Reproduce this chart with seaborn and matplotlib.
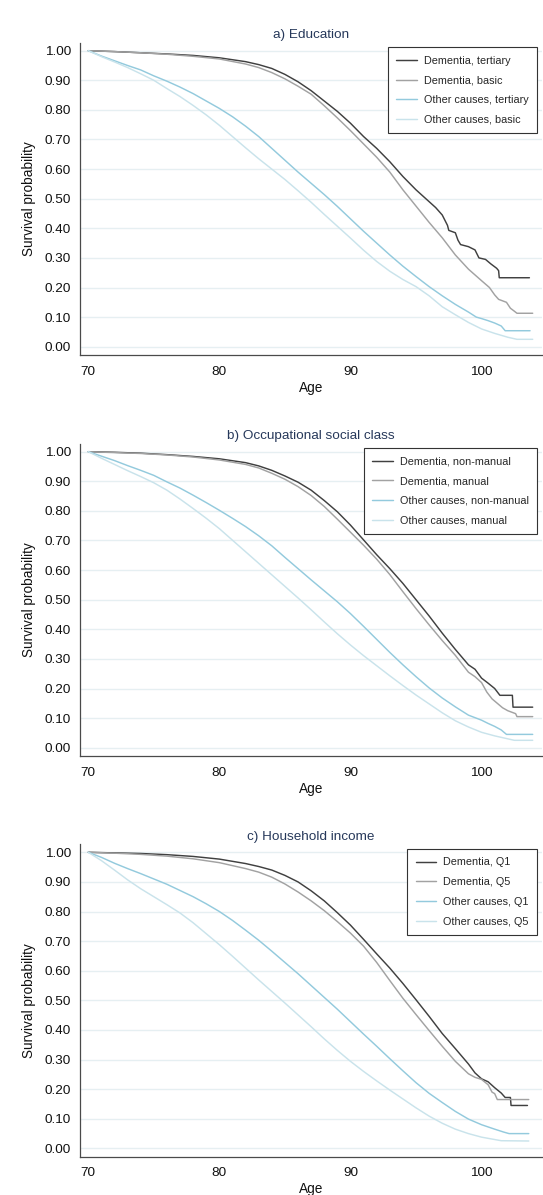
import matplotlib
matplotlib.use("Agg")
import matplotlib.pyplot as plt
import numpy as np
import pandas as pd
import seaborn as sns

# ---------------- data ----------------
titles = ["a) Education", "b) Occupational social class", "c) Household income"]

labels_a = ["Dementia, tertiary", "Dementia, basic", "Other causes, tertiary", "Other causes, basic"]
labels_b = ["Dementia, non-manual", "Dementia, manual", "Other causes, non-manual", "Other causes, manual"]
labels_c = ["Dementia, Q1", "Dementia, Q5", "Other causes, Q1", "Other causes, Q5"]

x_ticks = [70, 80, 90, 100]
y_ticks = [0.0, 0.1, 0.2, 0.3, 0.4, 0.5, 0.6, 0.7, 0.8, 0.9, 1.0]

# Panel a
a_dem_hi_age = [70, 72, 74, 76, 78, 80, 82, 83, 84, 85, 86, 87, 88, 89, 90, 91, 92, 93, 94, 95, 96, 96.5, 97, 97.4,
                97.5, 98.0, 98.2, 98.4, 99.0, 99.5, 99.8, 100.3, 100.7, 101.15, 101.3, 101.35, 103.65]
a_dem_hi = [1.000, 0.997, 0.993, 0.989, 0.984, 0.976, 0.963, 0.953, 0.940, 0.920, 0.895, 0.865, 0.830, 0.795, 0.755,
            0.710, 0.670, 0.625, 0.575, 0.530, 0.490, 0.470, 0.445, 0.410, 0.393, 0.385, 0.360, 0.345, 0.338, 0.327,
            0.300, 0.295, 0.280, 0.265, 0.257, 0.233, 0.233]
a_dem_lo_age = [70, 72, 74, 76, 78, 80, 82, 83, 84, 85, 86, 87, 88, 89, 90, 91, 92, 93, 94, 95, 96, 97, 98, 99,
                100, 100.6, 101.0, 101.3, 101.9, 102.2, 102.5, 102.7, 103.9]
a_dem_lo = [1.000, 0.997, 0.993, 0.988, 0.981, 0.972, 0.955, 0.943, 0.926, 0.905, 0.880, 0.853, 0.814, 0.773, 0.730,
            0.685, 0.640, 0.590, 0.530, 0.475, 0.420, 0.368, 0.310, 0.262, 0.223, 0.200, 0.175, 0.160, 0.150, 0.130,
            0.120, 0.113, 0.113]
a_oth_hi_age = [70, 71, 72, 73, 74, 75, 76, 77, 78, 79, 80, 81, 82, 83, 84, 85, 86, 87, 88, 89, 90, 91, 92, 93, 94,
                95, 96, 97, 98, 99, 99.6, 100, 100.5, 101, 101.5, 101.8, 103.7]
a_oth_hi = [1.000, 0.982, 0.966, 0.950, 0.935, 0.915, 0.897, 0.877, 0.855, 0.830, 0.805, 0.777, 0.745, 0.710, 0.670,
            0.630, 0.590, 0.552, 0.514, 0.474, 0.432, 0.390, 0.350, 0.310, 0.272, 0.237, 0.203, 0.172, 0.143, 0.117,
            0.100, 0.095, 0.088, 0.080, 0.070, 0.054, 0.054]
a_oth_lo_age = [70, 71, 72, 73, 74, 75, 76, 77, 78, 79, 80, 81, 82, 83, 84, 85, 86, 87, 88, 89, 90, 91, 92, 93, 94,
                95, 96, 97, 98, 99, 100, 101, 102, 102.7, 103.9]
a_oth_lo = [1.000, 0.980, 0.962, 0.943, 0.922, 0.900, 0.872, 0.845, 0.815, 0.783, 0.748, 0.710, 0.672, 0.635, 0.600,
            0.565, 0.527, 0.488, 0.447, 0.407, 0.367, 0.326, 0.288, 0.255, 0.227, 0.203, 0.172, 0.135, 0.108, 0.082,
            0.060, 0.045, 0.032, 0.025, 0.025]

# Panel b
b_dem_hi_age = [70, 72, 74, 76, 78, 80, 82, 83, 84, 85, 86, 87, 88, 89, 90, 91, 92, 93, 94, 95, 96, 97, 98, 99,
                99.5, 100, 100.5, 101, 101.4, 102.35, 102.4, 103.9]
b_dem_hi = [1.000, 0.998, 0.995, 0.990, 0.984, 0.976, 0.963, 0.952, 0.937, 0.918, 0.897, 0.870, 0.835, 0.797, 0.752,
            0.702, 0.652, 0.605, 0.555, 0.500, 0.445, 0.387, 0.332, 0.280, 0.265, 0.235, 0.218, 0.200, 0.177, 0.177,
            0.137, 0.137]
b_dem_lo_age = [70, 72, 74, 76, 78, 80, 82, 83, 84, 85, 86, 87, 88, 89, 90, 91, 92, 93, 94, 95, 96, 97, 98, 99,
                99.5, 100, 100.4, 100.8, 101.2, 101.6, 102, 102.6, 102.7, 103.9]
b_dem_lo = [1.000, 0.997, 0.994, 0.989, 0.982, 0.972, 0.957, 0.945, 0.927, 0.907, 0.882, 0.852, 0.815, 0.772, 0.728,
            0.684, 0.637, 0.585, 0.527, 0.470, 0.415, 0.362, 0.312, 0.255, 0.240, 0.220, 0.188, 0.165, 0.150, 0.135,
            0.125, 0.115, 0.105, 0.105]
b_oth_hi_age = [70, 71, 72, 73, 74, 75, 76, 77, 78, 79, 80, 81, 82, 83, 84, 85, 86, 87, 88, 89, 90, 91, 92, 93, 94,
                95, 96, 97, 98, 99, 100, 100.5, 101, 101.5, 101.9, 103.9]
b_oth_hi = [1.000, 0.985, 0.970, 0.953, 0.937, 0.920, 0.898, 0.877, 0.853, 0.828, 0.802, 0.775, 0.747, 0.716, 0.682,
            0.643, 0.605, 0.567, 0.530, 0.493, 0.453, 0.410, 0.366, 0.322, 0.280, 0.240, 0.202, 0.168, 0.138, 0.110,
            0.093, 0.082, 0.072, 0.060, 0.045, 0.045]
b_oth_lo_age = [70, 71, 72, 73, 74, 75, 76, 77, 78, 79, 80, 81, 82, 83, 84, 85, 86, 87, 88, 89, 90, 91, 92, 93, 94,
                95, 96, 97, 98, 99, 100, 101, 101.5, 102.5, 103.9]
b_oth_lo = [1.000, 0.978, 0.957, 0.936, 0.916, 0.895, 0.870, 0.840, 0.808, 0.775, 0.740, 0.701, 0.662, 0.623, 0.584,
            0.545, 0.506, 0.466, 0.425, 0.385, 0.347, 0.311, 0.277, 0.243, 0.210, 0.178, 0.148, 0.118, 0.091, 0.070,
            0.052, 0.040, 0.035, 0.025, 0.025]

# Panel c
c_dem_hi_age = [70, 72, 74, 76, 78, 80, 82, 83, 84, 85, 86, 87, 88, 89, 90, 91, 92, 93, 94, 95, 96, 97, 98, 99,
                99.5, 100, 100.5, 101, 101.5, 101.8, 102.2, 102.25, 103.5]
c_dem_hi = [1.000, 0.998, 0.996, 0.992, 0.986, 0.977, 0.962, 0.952, 0.940, 0.922, 0.900, 0.870, 0.836, 0.796, 0.754,
            0.706, 0.657, 0.609, 0.557, 0.502, 0.446, 0.388, 0.337, 0.285, 0.255, 0.235, 0.225, 0.205, 0.187, 0.172,
            0.172, 0.145, 0.145]
c_dem_lo_age = [70, 72, 74, 76, 78, 80, 82, 83, 84, 85, 86, 87, 88, 89, 90, 91, 92, 93, 94, 95, 96, 97, 98, 99,
                99.5, 100, 100.5, 100.8, 101, 101.2, 103.6]
c_dem_lo = [1.000, 0.997, 0.993, 0.987, 0.978, 0.965, 0.945, 0.933, 0.916, 0.893, 0.866, 0.836, 0.803, 0.766, 0.727,
            0.683, 0.628, 0.567, 0.507, 0.452, 0.398, 0.345, 0.294, 0.252, 0.240, 0.233, 0.215, 0.190, 0.185, 0.165,
            0.165]
c_oth_hi_age = [70, 71, 72, 73, 74, 75, 76, 77, 78, 79, 80, 81, 82, 83, 84, 85, 86, 87, 88, 89, 90, 91, 92, 93, 94,
                95, 96, 97, 98, 99, 100, 101, 101.7, 102.1, 103.6]
c_oth_hi = [1.000, 0.983, 0.963, 0.945, 0.928, 0.910, 0.892, 0.871, 0.850, 0.826, 0.800, 0.770, 0.737, 0.703, 0.666,
            0.628, 0.590, 0.550, 0.510, 0.470, 0.428, 0.386, 0.345, 0.303, 0.262, 0.222, 0.186, 0.155, 0.125, 0.099,
            0.080, 0.065, 0.055, 0.050, 0.050]
c_oth_lo_age = [70, 71, 72, 73, 74, 75, 76, 77, 78, 79, 80, 81, 82, 83, 84, 85, 86, 87, 88, 89, 90, 91, 92, 93, 94,
                95, 96, 97, 98, 99, 100, 101, 101.5, 103.6]
c_oth_lo = [1.000, 0.972, 0.940, 0.907, 0.877, 0.850, 0.823, 0.795, 0.762, 0.725, 0.688, 0.649, 0.609, 0.569, 0.530,
            0.491, 0.451, 0.411, 0.370, 0.331, 0.294, 0.260, 0.228, 0.197, 0.167, 0.137, 0.109, 0.085, 0.065, 0.050,
            0.038, 0.030, 0.026, 0.025]

panels = [
    (titles[0], labels_a, [(a_dem_hi_age, a_dem_hi), (a_dem_lo_age, a_dem_lo), (a_oth_hi_age, a_oth_hi), (a_oth_lo_age, a_oth_lo)]),
    (titles[1], labels_b, [(b_dem_hi_age, b_dem_hi), (b_dem_lo_age, b_dem_lo), (b_oth_hi_age, b_oth_hi), (b_oth_lo_age, b_oth_lo)]),
    (titles[2], labels_c, [(c_dem_hi_age, c_dem_hi), (c_dem_lo_age, c_dem_lo), (c_oth_hi_age, c_oth_hi), (c_oth_lo_age, c_oth_lo)]),
]

# ---------------- style ----------------
sns.set_theme(style="white")
plt.rcParams["font.family"] = ["Liberation Sans", "DejaVu Sans"]

colors = ["#404040", "#a2a2a2", "#93cadd", "#c9e3eb"]
title_color = "#26385a"
spine_color = "#4a4a4a"

W, H = 543, 1195
fig = plt.figure(figsize=(W / 100, H / 100), dpi=100)
fig.patch.set_facecolor("white")

ax_left, ax_right = 80, 542
ax_rows = [(42.7, 355.0), (443.7, 756.0), (844.3, 1156.7)]   # top, bottom (px)
legend_tops = [47.3, 448.0, 849.0]
legend_right = 537.0

for (title, labels, series), (top, bot), ltop in zip(panels, ax_rows, legend_tops):
    ax = fig.add_axes([ax_left / W, 1 - bot / H, (ax_right - ax_left) / W, (bot - top) / H])
    frames = []
    for (ages, vals), lab in zip(series, labels):
        frames.append(pd.DataFrame({"age": ages, "surv": vals, "group": lab}))
    df = pd.concat(frames, ignore_index=True)
    sns.lineplot(data=df, x="age", y="surv", hue="group", hue_order=labels,
                 palette=colors, estimator=None, sort=False, linewidth=1.05, ax=ax)

    ax.set_xlim(69.37, 104.61)
    ax.set_ylim(-0.028, 1.027)
    ax.set_xticks(x_ticks)
    ax.set_yticks(y_ticks)
    ax.set_yticklabels([f"{v:.2f}" for v in y_ticks])
    ax.set_axisbelow(True)
    ax.yaxis.grid(True, color="#e6eff2", linewidth=1.0)
    ax.xaxis.grid(False)
    for s in ["top", "right"]:
        ax.spines[s].set_visible(False)
    for s in ["left", "bottom"]:
        ax.spines[s].set_color(spine_color)
        ax.spines[s].set_linewidth(0.9)
    ax.tick_params(axis="both", which="major", direction="out", length=3.6, width=0.8,
                   color=spine_color, labelsize=9.7, labelcolor="#111111")
    ax.tick_params(axis="x", pad=4.0)
    ax.tick_params(axis="y", pad=3.0)

    ax.set_xlabel("Age", fontsize=9.8, color="#111111")
    ax.set_ylabel("Survival probability", fontsize=9.8, color="#111111")
    ax.xaxis.set_label_coords(0.5, -0.0817)
    ax.yaxis.set_label_coords(-0.0963, 0.5)
    ax.set_title(title, fontsize=9.7, color=title_color, pad=3.2)

    handles, hl = ax.get_legend_handles_labels()
    leg = ax.legend(handles, hl, loc="upper right",
                    bbox_to_anchor=(legend_right / W, 1 - ltop / H), bbox_transform=fig.transFigure,
                    borderaxespad=0, fontsize=7.8, frameon=True, fancybox=False, shadow=False,
                    framealpha=1, edgecolor="#333333", borderpad=0.78, labelspacing=0.9,
                    handlelength=1.9, handletextpad=0.64)
    leg.get_frame().set_linewidth(0.8)
    for line in leg.get_lines():
        line.set_linewidth(1.05)

fig.savefig("out.png", dpi=100, facecolor="white")
